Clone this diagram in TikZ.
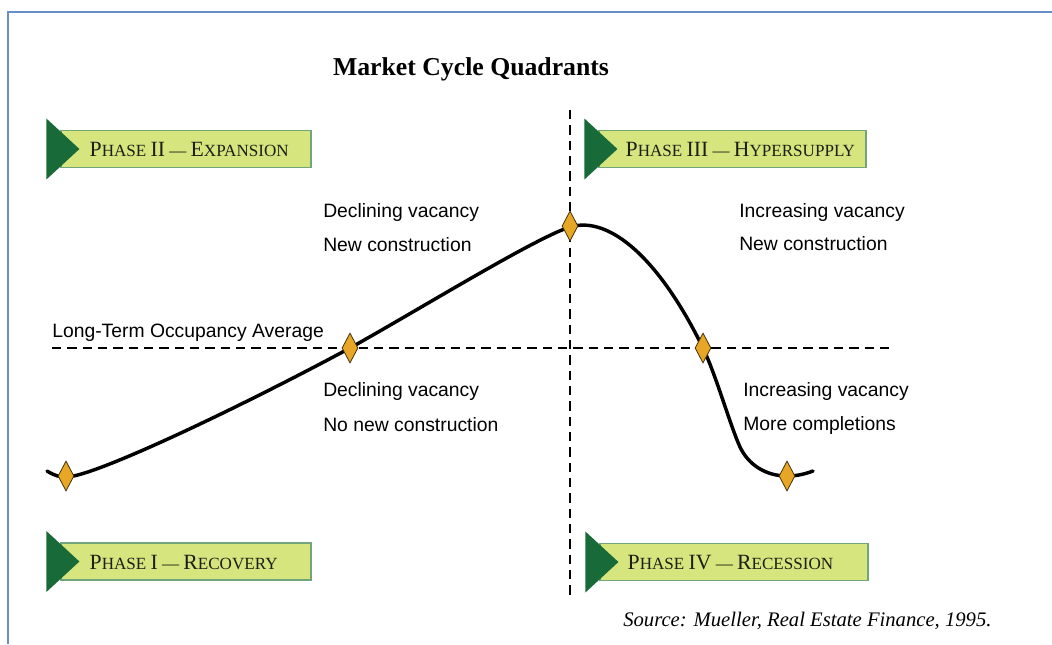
\documentclass[tikz,border=0pt]{standalone}
\usepackage{fontspec}
\setmainfont{Liberation Serif}
\newfontfamily\labelfont{Liberation Sans}
\usetikzlibrary{shapes.geometric}

\definecolor{framecol}{RGB}{104,142,200}
\definecolor{phasedark}{RGB}{24,106,56}
\definecolor{phasefill}{RGB}{214,229,126}
\definecolor{phaseedge}{RGB}{112,166,122}
\definecolor{phaseink}{RGB}{28,32,20}
\definecolor{markfill}{RGB}{232,166,38}
\definecolor{markedge}{RGB}{70,50,10}

% small-caps style lettering for the phase banners
\newcommand\phbig{\fontsize{16.3pt}{16.3pt}\selectfont}
\newcommand\phsmall{\fontsize{12.8pt}{12.8pt}\selectfont}

\tikzset{
  phasebox/.style={draw=phaseedge, fill=phasefill, line width=0.9pt,
    minimum height=27.75pt, inner sep=0pt},
  phasetext/.style={anchor=base west, text=phaseink, inner sep=0pt,
    font=\phsmall},
  phasetri/.style={fill=phasedark},
  note/.style={anchor=base west, inner sep=0pt, font=\labelfont\fontsize{14.5pt}{14.5pt}\selectfont},
  guide/.style={line width=1.5pt, dash pattern=on 7pt off 4.5pt},
  cycle/.style={line width=2.6pt, line cap=round},
  marker/.style={diamond, draw=markedge, fill=markfill, line width=0.6pt,
    inner sep=0pt, minimum width=12pt, minimum height=22.5pt},
}

\begin{document}
\begin{tikzpicture}[x=0.75pt, y=-0.75pt]
\useasboundingbox (0,0) rectangle (1052,644);

% page frame
\draw[framecol, line width=1.5pt] (1052,12) -- (8,12) -- (8,644);

% title and source
\node[anchor=base, inner sep=0pt, font=\bfseries\fontsize{19.3pt}{19.3pt}\selectfont] (title) at (471,75) {Market Cycle Quadrants};
\node[anchor=base west, inner sep=0pt, font=\itshape\fontsize{15.5pt}{15.5pt}\selectfont] (source) at (623,626) {Source: Mueller, Real Estate Finance, 1995.};

% quadrant guides
\coordinate (hl) at (52,348);
\coordinate (hr) at (890,348);
\coordinate (vt) at (570,110);
\coordinate (vb) at (570,596);
\draw[guide] (hl) -- (hr);
\draw[guide] (vt) -- (vb);

% phase banners
\node[phasebox, minimum width=187.5pt] (ph2) at (186,149) {};
\node[phasebox, minimum width=200.25pt] (ph3) at (732.5,149) {};
\node[phasebox, minimum width=187.5pt] (ph1) at (186,561.5) {};
\node[phasebox, minimum width=201pt] (ph4) at (734,562) {};

\foreach \p in {ph1,ph2,ph3,ph4}{
  \fill[phasetri] ([shift={(-14,-30.5)}]\p.west) -- ([shift={(-14,30.5)}]\p.west) -- ([shift={(19,0)}]\p.west) -- cycle;
}

\node[phasetext] (t2) at ([shift={(29,7.5)}]ph2.west) {{\phbig P}HASE {\phbig II} --- {\phbig E}XPANSION};
\node[phasetext] (t3) at ([shift={(27,7.5)}]ph3.west) {{\phbig P}HASE {\phbig III} --- {\phbig H}YPERSUPPLY};
\node[phasetext] (t1) at ([shift={(29,7.5)}]ph1.west) {{\phbig P}HASE {\phbig I} --- {\phbig R}ECOVERY};
\node[phasetext] (t4) at ([shift={(28,7.5)}]ph4.west) {{\phbig P}HASE {\phbig IV} --- {\phbig R}ECESSION};

% quadrant notes
\node[note] (avg) at (52,337) {Long-Term Occupancy Average};
\node[note] (n2a) at (323,217) {Declining vacancy};
\node[note] (n2b) at (323,251) {New construction};
\node[note] (n1a) at (323,396.5) {Declining vacancy};
\node[note] (n1b) at (323,431) {No new construction};
\node[note] (n3a) at (739,217.5) {Increasing vacancy};
\node[note] (n3b) at (739,250.5) {New construction};
\node[note] (n4a) at (743,396.5) {Increasing vacancy};
\node[note] (n4b) at (743,430.5) {More completions};

% points of the cycle
\coordinate (c0) at (47,471);
\coordinate (c1) at (66,477);
\coordinate (c2) at (350,348);
\coordinate (c3) at (570,227);
\coordinate (c4) at (703,348);
\coordinate (c4b) at (740,447);
\coordinate (c5) at (787,476);
\coordinate (c6) at (813,471);

% the market cycle curve
\draw[cycle] (c0) .. controls (55,476) and (60,477) .. (c1)
  .. controls (95,477) and (250,402) .. (c2)
  .. controls (420,309) and (535,238) .. (c3)
  .. controls (610,215) and (660,260) .. (c4)
  .. controls (716,375) and (730,425) .. (c4b)
  .. controls (748,464) and (765,476) .. (c5)
  .. controls (797,476) and (805,474) .. (c6);

% cycle markers
\node[marker] (d1) at (66,476) {};
\node[marker] (d2) at (c2) {};
\node[marker] (d3) at (570,226) {};
\node[marker] (d4) at (c4) {};
\node[marker] (d5) at (c5) {};
\end{tikzpicture}
\end{document}
